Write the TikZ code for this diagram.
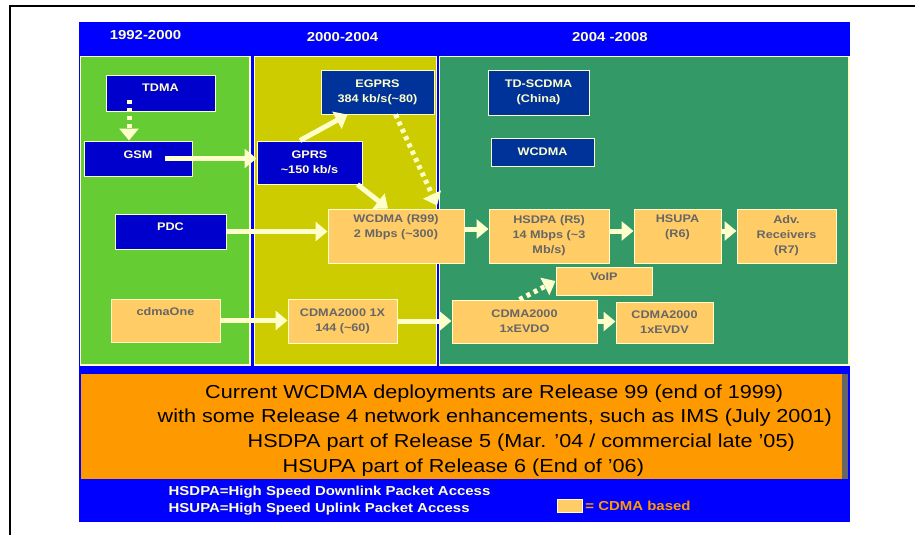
\documentclass[tikz,border=0pt]{standalone}
\usepackage{fontspec}
\setmainfont[FakeStretch=1.15]{Liberation Sans}
\usetikzlibrary{arrows.meta,positioning}
\definecolor{bgblue}{HTML}{0000FF}
\definecolor{gsmblue}{HTML}{0000CC}
\definecolor{navy}{HTML}{003399}
\definecolor{paleyel}{HTML}{FFFFCC}
\definecolor{cdmaorg}{HTML}{FFCC66}
\definecolor{txtgray}{HTML}{666666}
\definecolor{eraone}{HTML}{66CC33}
\definecolor{eratwo}{HTML}{CCCC00}
\definecolor{erathree}{HTML}{339966}
\definecolor{noteorg}{HTML}{FF9900}
\tikzset{
	tech/.style={draw=paleyel, line width=1pt, inner sep=1pt, align=center,
			font=\bfseries\fontsize{11}{15}\selectfont},
	gsmbox/.style={tech, fill=gsmblue, text=paleyel},
	navybox/.style={tech, fill=navy, text=paleyel},
	cdmabox/.style={tech, fill=cdmaorg, text=txtgray},
	erapanel/.style={draw=paleyel, line width=1.5pt},
	eralabel/.style={text=paleyel, font=\bfseries\fontsize{13}{15}\selectfont},
	evo/.style={draw=paleyel, line width=5pt, -{Triangle[width=19pt,length=12pt,fill=paleyel]}},
	evodot/.style={evo, dash pattern=on 4pt off 4pt},
	noteline/.style={anchor=base west, inner sep=0pt, font=\fontsize{18.8}{23}\selectfont},
}

\begin{document}
\begin{tikzpicture}[x=1pt,y=-1pt]
	\useasboundingbox (0,0) rectangle (915,535);
	\draw [line width=2pt]	(10,535) -- (10,6) -- (915,6);
	\fill [bgblue]	(79,22) rectangle (850,522);
	\filldraw [erapanel, fill=eraone]	(80.5,56.5) rectangle (250,365);
	\filldraw [erapanel, fill=eratwo]	(254.5,56.5) rectangle (436.5,365);
	\filldraw [erapanel, fill=erathree]	(439.5,56.5) rectangle (849,365);
	\fill [noteorg]	(81,374) rectangle (842,479);
	\fill [txtgray]	(842,374) rectangle (848,479);

	\node [eralabel] (eraA) at (145.5,35) {1992-2000};
	\node [eralabel] (eraB) at (342.5,37) {2000-2004};
	\node [eralabel] (eraC) at (610,37) {2004 -2008};

	\node [gsmbox, minimum width=109pt, minimum height=36pt, text depth=10pt] (tdma) at (160.5,93) {TDMA};
	\node [gsmbox, minimum width=108pt, minimum height=35pt, text depth=7pt] (gsm) at (138,158.5) {GSM};
	\node [gsmbox, minimum width=111pt, minimum height=35pt, text depth=9pt] (pdc) at (170.5,231.5) {PDC};
	\node [cdmabox, minimum width=109pt, minimum height=43pt, text depth=17pt] (cdmaone) at (165.5,320.5) {cdmaOne};

	\node [navybox, minimum width=113pt, minimum height=44pt] (egprs) at (377.5,92) {EGPRS\\384 kb/s(\textasciitilde80)};
	\node [gsmbox, minimum width=105pt, minimum height=43pt] (gprs) at (309.5,162.5) {GPRS\\\textasciitilde150 kb/s};
	\node [cdmabox, minimum width=136pt, minimum height=54pt] (r99) at (396,236) {WCDMA (R99)\\2 Mbps (\textasciitilde300)\\\strut};
	\node [cdmabox, minimum width=109pt, minimum height=44pt] (cdmaonex) at (342.5,321) {CDMA2000 1X\\144 (\textasciitilde60)};

	\node [navybox, minimum width=101pt, minimum height=45pt] (tdscdma) at (538.5,92.5) {TD-SCDMA\\(China)};
	\node [navybox, minimum width=103pt, minimum height=28pt] (wcdma) at (542.5,152) {WCDMA};
	\node [cdmabox, minimum width=120pt, minimum height=54pt] (hsdpa) at (549,236) {HSDPA (R5)\\14 Mbps (\textasciitilde3\\Mb/s)};
	\node [cdmabox, minimum width=87pt, minimum height=54pt] (hsupa) at (677.5,236) {HSUPA\\(R6)\\\strut};
	\node [cdmabox, minimum width=99pt, minimum height=54pt] (advrx) at (786.5,236) {Adv.\\Receivers\\(R7)};
	\node [cdmabox, minimum width=96pt, minimum height=28pt, text depth=8pt] (voip) at (604,281) {VoIP};
	\node [cdmabox, minimum width=145pt, minimum height=43pt] (evdo) at (524.5,321.5) {CDMA2000\\1xEVDO};
	\node [cdmabox, minimum width=97pt, minimum height=41pt] (evdv) at (664.5,322.5) {CDMA2000\\1xEVDV};

	\draw [evodot]	([xshift=-31.5pt,yshift=12pt]tdma.south) to ([xshift=-9pt]gsm.north);
	\draw [evo]	([xshift=-28pt]gsm.east) to (gsm.east -| gprs.west);
	\draw [evo]	(pdc.east) to (pdc.east -| r99.west);
	\draw [evo]	(cdmaone.east) to (cdmaone.east -| cdmaonex.west);
	\draw [evo]	(cdmaonex.east) to (cdmaonex.east -| evdo.west);
	\draw [evo]	([xshift=-9.5pt]gprs.north) to ([xshift=-30pt]egprs.south);
	\draw [evo]	([xshift=48pt]gprs.south) to ([xshift=-8pt]r99.north);
	\draw [evodot]	([xshift=18pt]egprs.south) to ([xshift=41pt,yshift=3pt]r99.north);
	\draw [evo]	([yshift=7pt]r99.east) to ([yshift=7pt]hsdpa.west);
	\draw [evo]	([yshift=5pt]hsdpa.east) to ([yshift=5pt]hsupa.west);
	\draw [evo]	([yshift=5pt]hsupa.east) to ([yshift=5pt]advrx.west);
	\draw [evo]	(evdo.east) to (evdo.east -| evdv.west);
	\draw [evodot]	([xshift=-5pt]evdo.north) to (voip.west);

	\node [noteline] (noteA) at (205,398) {Current WCDMA deployments are Release 99 (end of 1999)};
	\node [noteline] (noteB) at (157.5,422.5) {with some Release 4 network enhancements, such as IMS (July 2001)};
	\node [noteline] (noteC) at (247.5,447) {HSDPA part of Release 5 (Mar. ’04 / commercial late ’05)};
	\node [noteline] (noteD) at (282.5,472) {HSUPA part of Release 6 (End of ’06)};

	\node [anchor=base west, inner sep=0pt, align=left, text=paleyel, font=\bfseries\fontsize{13}{17}\selectfont] (legend) at (168.5,512)
		{HSDPA=High Speed Downlink Packet Access\\HSUPA=High Speed Uplink Packet Access};
	\node [draw=paleyel, line width=1.5pt, fill=cdmaorg, minimum width=25pt, minimum height=13pt, inner sep=0pt] (cdmakey) at (570,506) {};
	\node [right=2pt of cdmakey, inner sep=0pt, text=noteorg, font=\bfseries\fontsize{13}{15}\selectfont] (keytext) {= CDMA based};
\end{tikzpicture}
\end{document}
